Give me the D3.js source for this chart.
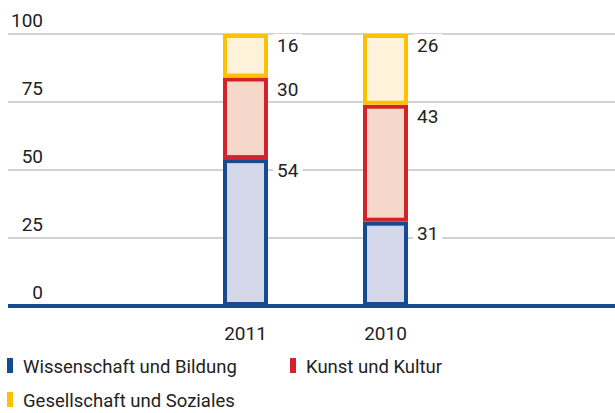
<!DOCTYPE html>
<html><head><meta charset="utf-8">
<script src="https://cdn.jsdelivr.net/npm/d3@7"></script>
<style>html,body{margin:0;padding:0;background:#fff;}svg{display:block;font-family:Roboto,"Noto Sans",sans-serif;}</style>
</head><body><svg id="c" width="615" height="413"></svg>
<script>
const categories = ["2011", "2010"];
const seriesNames = ["Wissenschaft und Bildung", "Kunst und Kultur", "Gesellschaft und Soziales"];
const wissenschaft = [54, 31];
const kunst = [30, 43];
const gesellschaft = [16, 26];
const yTicks = [0, 25, 50, 75, 100];

const strokeColors = ["#164c8f", "#d2232a", "#fcc200"];
const fillColors = ["#d4d6ea", "#f5d8ca", "#fef2da"];
const textColor = "#222";

const svg = d3.select("#c");
const left = 8, right = 615;
const y = d3.scaleLinear().domain([0, 100]).range([306, 34]);
const xp = d3.scalePoint().domain(categories).range([245.5, 385.5]);
const barW = 45;

const stackData = categories.map((c, i) => ({cat: c, w: wissenschaft[i], k: kunst[i], g: gesellschaft[i]}));
const stack = d3.stack().keys(["w", "k", "g"])(stackData);

// gridlines
svg.append("g").selectAll("line").data(yTicks.filter(t => t > 0)).join("line")
  .attr("x1", left).attr("x2", right)
  .attr("y1", d => y(d)).attr("y2", d => y(d))
  .attr("stroke", "#a6a6a6").attr("stroke-width", 1.2);

// y tick labels
svg.append("g").selectAll("text").data(yTicks).join("text")
  .attr("x", 43).attr("y", d => y(d) - 7)
  .attr("text-anchor", "end").attr("font-size", 19).attr("fill", textColor)
  .text(d => d);

// value labels with white background
const labelG = svg.append("g");
stack.forEach((layer) => {
  layer.forEach((d, ci) => {
    const cx = xp(categories[ci]);
    const top = y(d[1]);
    const val = d[1] - d[0];
    const t = labelG.append("text")
      .attr("x", cx + barW / 2 + 9).attr("y", top + 18)
      .attr("font-size", 19).attr("fill", textColor).text(val);
    const bb = t.node().getBBox();
    labelG.insert("rect", "text")
      .attr("x", bb.x - 4).attr("y", bb.y).attr("width", bb.width + 8).attr("height", bb.height)
      .attr("fill", "#fff");
  });
});

// bars
const sw = 4;
stack.forEach((layer, si) => {
  svg.append("g").selectAll("rect").data(layer).join("rect")
    .attr("x", (d, i) => xp(categories[i]) - barW / 2 + sw / 2)
    .attr("y", d => y(d[1]) + sw / 2)
    .attr("width", barW - sw)
    .attr("height", d => y(d[0]) - y(d[1]) - sw)
    .attr("fill", fillColors[si])
    .attr("stroke", strokeColors[si])
    .attr("stroke-width", sw);
});

// baseline
svg.append("line").attr("x1", left).attr("x2", right).attr("y1", y(0)).attr("y2", y(0))
  .attr("stroke", strokeColors[0]).attr("stroke-width", 4);

// x labels
svg.append("g").selectAll("text").data(categories).join("text")
  .attr("x", d => xp(d)).attr("y", 340).attr("text-anchor", "middle")
  .attr("font-size", 19).attr("fill", textColor).text(d => d);

// legend
const legendPos = [[7, 373], [290, 373], [7, 407]];
const lg = svg.append("g").selectAll("g").data(seriesNames).join("g")
  .attr("transform", (d, i) => `translate(${legendPos[i][0]},${legendPos[i][1]})`);
lg.append("rect").attr("x", 0).attr("y", -15).attr("width", 6).attr("height", 15)
  .attr("fill", (d, i) => strokeColors[i]);
lg.append("text").attr("x", 16).attr("y", 0).attr("font-size", 18.5).attr("fill", textColor).text(d => d);
</script></body></html>
